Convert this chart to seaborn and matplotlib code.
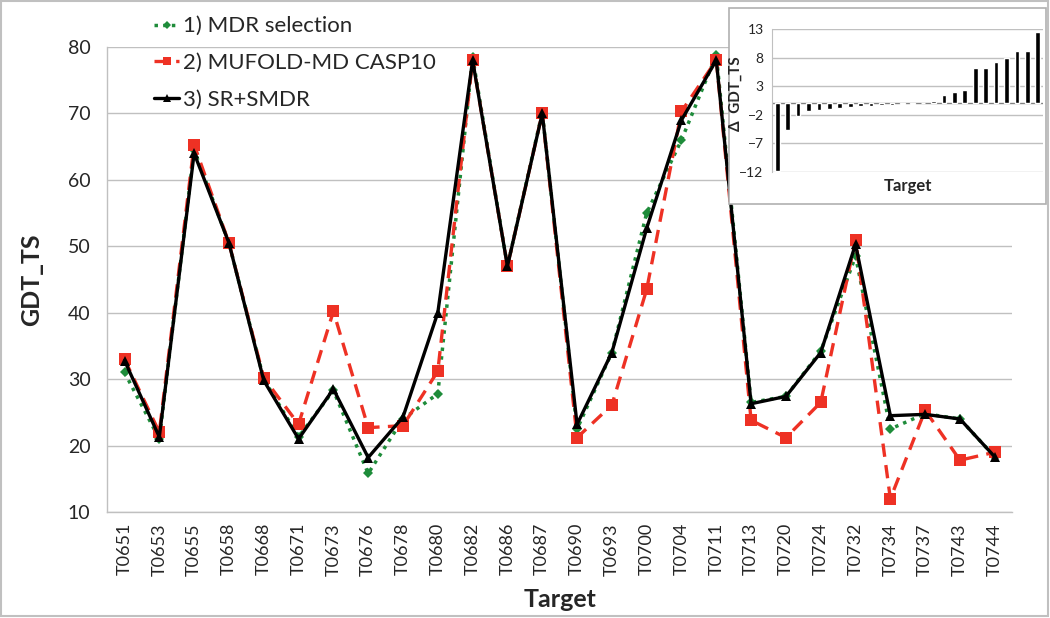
import numpy as np
import pandas as pd
import matplotlib
matplotlib.use("Agg")
import matplotlib.pyplot as plt
from matplotlib.patches import Rectangle
import seaborn as sns

# targets on the x axis
targets = ['T0651', 'T0653', 'T0655', 'T0658', 'T0668', 'T0671', 'T0673', 'T0676',
           'T0678', 'T0680', 'T0682', 'T0686', 'T0687', 'T0690', 'T0693', 'T0700',
           'T0704', 'T0711', 'T0713', 'T0720', 'T0724', 'T0732', 'T0734', 'T0737',
           'T0743', 'T0744']

# GDT_TS per method
mdr = [31.0, 21.0, 64.5, 50.5, 30.0, 21.3, 28.3, 15.8, 24.0, 27.8, 78.5, 47.0, 70.2,
       22.5, 34.0, 55.0, 66.0, 78.8, 26.5, 27.4, 34.2, 48.5, 22.5, 24.8, 24.0, 18.3]
mufold = [33.0, 22.0, 65.3, 50.5, 30.2, 23.2, 40.2, 22.7, 23.0, 31.2, 78.0, 47.0, 70.0,
          21.2, 26.1, 43.5, 70.3, 78.0, 23.8, 21.2, 26.5, 51.0, 12.0, 25.3, 17.8, 19.0]
srsmdr = [32.8, 21.3, 64.0, 50.5, 29.8, 21.0, 28.5, 18.2, 24.3, 40.0, 78.0, 47.0, 70.0,
          23.2, 34.0, 52.7, 69.0, 78.0, 26.3, 27.4, 34.0, 50.3, 24.5, 24.7, 24.0, 18.3]

# sorted delta GDT_TS for the inset
delta = [-11.8, -4.6, -2.2, -1.3, -1.1, -0.9, -0.8, -0.6, -0.5, -0.4, -0.3, -0.2, -0.1,
         -0.05, 0.1, 0.4, 1.5, 2.0, 2.4, 6.1, 6.1, 7.3, 7.9, 9.1, 9.2, 12.5]

sns.set_style("white")
plt.rcParams['font.family'] = ['Lato', 'DejaVu Sans']

grid_c = '#c0c0c0'
pos = np.arange(len(targets))

fig = plt.figure(figsize=(10.5, 6.18), dpi=100)
ax = fig.add_axes([0.102, 0.1715, 0.862, 0.7525])

sns.lineplot(x=pos, y=mdr, ax=ax, color='#1e8c3a', linestyle=(0, (1, 1.5)), linewidth=2.5,
             marker='D', markersize=5.5, markeredgewidth=0, label='1) MDR selection')
sns.lineplot(x=pos, y=mufold, ax=ax, color='#ee3124', linestyle=(0, (4, 2.5)), linewidth=2.4,
             marker='s', markersize=8, markeredgewidth=0, label='2) MUFOLD-MD CASP10')
sns.lineplot(x=pos, y=srsmdr, ax=ax, color='black', linestyle='-', linewidth=2.4,
             marker='^', markersize=7, markeredgewidth=0, label='3) SR+SMDR')

ax.set_xlim(-0.5, len(targets) - 0.5)
ax.set_ylim(10, 80)
ax.set_yticks(range(10, 81, 10))
ax.set_xticks(pos)
ax.set_xticklabels(targets, rotation=90, fontsize=13)
ax.set_xticks(np.arange(-0.5, len(targets), 1), minor=True)
ax.tick_params(axis='x', which='major', length=0, pad=8)
ax.tick_params(axis='x', which='minor', length=6, color=grid_c, width=1)
ax.tick_params(axis='y', length=6, color=grid_c, width=1, labelsize=14, pad=6)
ax.yaxis.grid(True, color=grid_c, linewidth=1)
ax.set_axisbelow(True)
for s in ['top', 'right']:
    ax.spines[s].set_visible(False)
for s in ['left', 'bottom']:
    ax.spines[s].set_color(grid_c)
    ax.spines[s].set_linewidth(1)
ax.set_xlabel('Target', fontsize=18, fontweight='bold', labelpad=9)
ax.set_ylabel('GDT_TS', fontsize=18, fontweight='bold', labelpad=18)

ax.legend(loc='upper left', bbox_to_anchor=(0.128, 1.006), bbox_transform=fig.transFigure,
          frameon=False, fontsize=16, handlelength=1.1, handletextpad=0.2,
          labelspacing=0.75, markerscale=0.8)

# inset box
fig.patches.append(Rectangle((729 / 1050, 1 - 204 / 618), (1046 - 729) / 1050, (204 - 8) / 618,
                             transform=fig.transFigure, facecolor='white',
                             edgecolor='#b0b0b0', linewidth=1.2, zorder=5))

ins = fig.add_axes([772 / 1050, 1 - 172 / 618, (1043 - 772) / 1050, (172 - 29) / 618], zorder=6)
ins.patch.set_alpha(0)
sns.barplot(x=np.arange(len(delta)), y=delta, ax=ins, color='black', width=0.45,
            saturation=1, native_scale=True)
ins.set_xlim(-0.5, len(delta) - 0.5)
ins.set_ylim(-12, 13)
ins.set_yticks([-12, -7, -2, 3, 8, 13])
ins.set_xticks([])
ins.yaxis.grid(True, color=grid_c, linewidth=1)
ins.set_axisbelow(True)
ins.axhline(0, color='#808080', linewidth=1, zorder=0.5)
ins.tick_params(axis='y', length=4, color=grid_c, labelsize=10, pad=2)
for s in ['top', 'right', 'bottom']:
    ins.spines[s].set_visible(False)
ins.spines['left'].set_color(grid_c)
ins.set_xlabel('Target', fontsize=12, fontweight='bold', labelpad=4)
ins.set_ylabel('Δ  GDT_TS', fontsize=11, fontweight='bold')
ins.yaxis.set_label_coords(-0.108, 0.55)

# outer frame
fig.patches.append(Rectangle((0.001, 0.003), 0.997, 0.996, transform=fig.transFigure,
                             facecolor='none', edgecolor='#c0c0c0', linewidth=1.5, zorder=10))

fig.savefig('out.png', dpi=100)
